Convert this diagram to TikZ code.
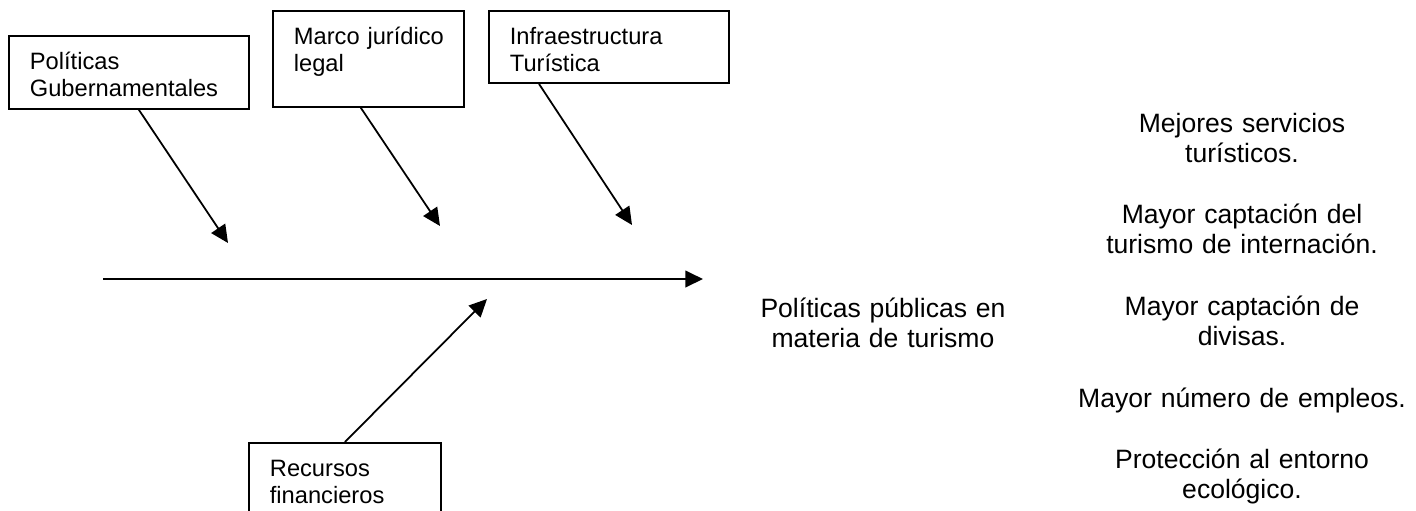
\documentclass[tikz,border=0pt]{standalone}
\usepackage{fontspec}
\setmainfont{Liberation Sans}
\usetikzlibrary{arrows.meta}
\tikzset{
    base/.style={inner sep=0pt},
    causa/.style={base, rectangle, draw=black, line width=0.8pt, anchor=north west, align=left, inner xsep=9.5pt, text height=15.4pt, font=\fontsize{10.7}{12.1}\selectfont},
    efecto/.style={base, anchor=base, align=center, text width=170pt, font=\fontsize{12}{13.7}\selectfont},
    arrow/.style={line width=0.8pt, -{Triangle[length=8pt,width=7.5pt]}, color=black}
}

\begin{document}
\begin{tikzpicture}[x=0.452pt, y=-0.452pt]
        \clip (0,0) rectangle (1416,510);

        % Causas
        \node (pol) [causa, text width=89.5pt, text depth=17.6pt] at (8,35) {Políticas\\Gubernamentales};
        \node (mar) [causa, inner xsep=4pt, text width=78.3pt, text depth=28pt] at (272,10) {\hspace*{5.5pt}Marco jurídico\\\hspace*{5.5pt}legal};
        \node (inf) [causa, text width=89.5pt, text depth=17.2pt] at (488,10) {Infraestructura\\Turística};
        \node (rec) [causa, text width=67.8pt, text depth=24pt] at (248,442) {Recursos\\financieros};

        % Espina
        \coordinate (e0) at (103,279);
        \coordinate (e1) at (703,279);
        \draw [arrow, line width=1pt] (e0) -- (e1);

        \coordinate (p1) at (228,243);
        \coordinate (p2) at (440,226);
        \coordinate (p3) at (632,225);
        \coordinate (p4) at (487,299);
        \draw [arrow] ([xshift=4.5pt]pol.south) -- (p1);
        \draw [arrow] ([xshift=-3.4pt]mar.south) -- (p2);
        \draw [arrow] ([xshift=-31.6pt]inf.south) -- (p3);
        \draw [arrow] (rec.north) -- (p4);

        % Problema
        \node (pp) [efecto, text width=130pt] at (883,317) {Políticas públicas en\\materia de turismo};

        % Efectos
        \node (ef1) [efecto] at (1242,132) {Mejores servicios\\turísticos.};
        \node (ef2) [efecto] at (1242,223) {Mayor captación del\\turismo de internación.};
        \node (ef3) [efecto] at (1242,315) {Mayor captación de\\divisas.};
        \node (ef4) [efecto] at (1242,407) {Mayor número de empleos.};
        \node (ef5) [efecto] at (1242,468) {Protección al entorno\\ecológico.};
    \end{tikzpicture}
\end{document}
